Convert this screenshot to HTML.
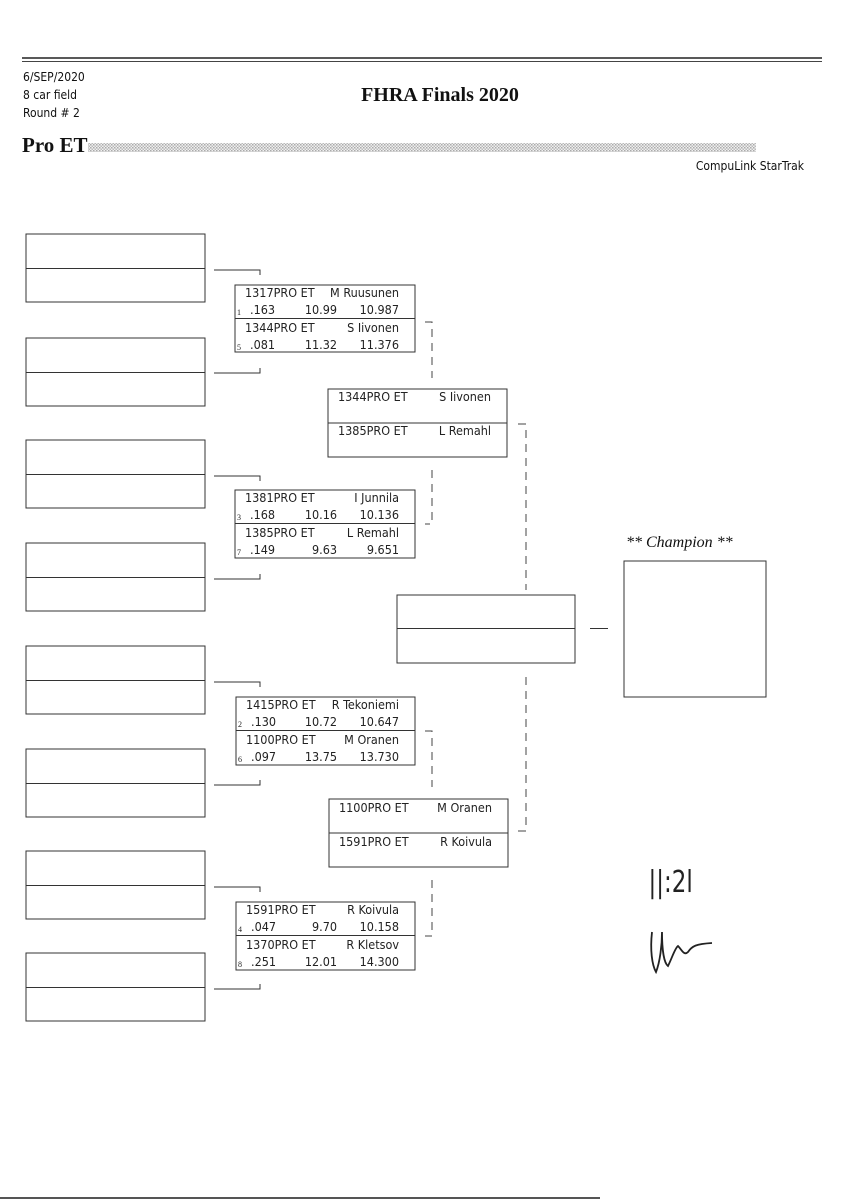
<!DOCTYPE html>
<html><head><meta charset="utf-8"><style>
html,body{margin:0;padding:0;background:#fff}
svg{display:block}
.n{font-family:"Liberation Sans Narrow","DejaVu Sans Condensed","Liberation Sans",sans-serif;font-size:12.5px;fill:#222}
.s{font-family:"Liberation Serif",serif;font-size:8px;fill:#222}
.h{font-family:"DejaVu Sans Condensed","Liberation Sans Narrow",sans-serif;font-size:12px;fill:#111}
</style></head><body>
<svg width="848" height="1200" viewBox="0 0 848 1200" xmlns="http://www.w3.org/2000/svg">
<defs>
<pattern id="dots" width="3" height="3" patternUnits="userSpaceOnUse"><rect width="3" height="3" fill="#f0f0f0"/><rect width="1.5" height="1.5" fill="#aaa"/><rect x="1.5" y="1.5" width="1.5" height="1.5" fill="#bbb"/></pattern>
</defs>
<line x1="22" y1="58" x2="822" y2="58" stroke="#222" stroke-width="1.6"/>
<line x1="22" y1="61.5" x2="822" y2="61.5" stroke="#444" stroke-width="1"/>
<text class="h" x="23" y="81">6/SEP/2020</text>
<text class="h" x="23" y="99">8 car field</text>
<text class="h" x="23" y="117">Round # 2</text>
<text x="440" y="101" text-anchor="middle" font-family="Liberation Serif,serif" font-weight="bold" font-size="20px" fill="#111">FHRA Finals 2020</text>
<text x="22" y="152" font-family="Liberation Serif,serif" font-weight="bold" font-size="21px" fill="#111">Pro ET</text>
<rect x="88" y="143" width="668" height="9" fill="url(#dots)"/>
<text class="h" x="804" y="170" text-anchor="end">CompuLink StarTrak</text>

<g fill="none" stroke="#333" stroke-width="1">
<rect x="26" y="234" width="179" height="68"/><line x1="26" y1="268.5" x2="205" y2="268.5"/>
<rect x="26" y="338" width="179" height="68"/><line x1="26" y1="372.5" x2="205" y2="372.5"/>
<rect x="26" y="440" width="179" height="68"/><line x1="26" y1="474.5" x2="205" y2="474.5"/>
<rect x="26" y="543" width="179" height="68"/><line x1="26" y1="577.5" x2="205" y2="577.5"/>
<rect x="26" y="646" width="179" height="68"/><line x1="26" y1="680.5" x2="205" y2="680.5"/>
<rect x="26" y="749" width="179" height="68"/><line x1="26" y1="783.5" x2="205" y2="783.5"/>
<rect x="26" y="851" width="179" height="68"/><line x1="26" y1="885.5" x2="205" y2="885.5"/>
<rect x="26" y="953" width="179" height="68"/><line x1="26" y1="987.5" x2="205" y2="987.5"/>
<path d="M214 270H260V275"/><path d="M214 373H260V368"/>
<path d="M214 476H260V481"/><path d="M214 579H260V574"/>
<path d="M214 682H260V687"/><path d="M214 785H260V780"/>
<path d="M214 887H260V892"/><path d="M214 989H260V984"/>
<rect x="235" y="285" width="180" height="67"/><line x1="235" y1="318.5" x2="415" y2="318.5"/>
<rect x="235" y="490" width="180" height="68"/><line x1="235" y1="523.5" x2="415" y2="523.5"/>
<rect x="236" y="697" width="179" height="68"/><line x1="236" y1="730.5" x2="415" y2="730.5"/>
<rect x="236" y="902" width="179" height="68"/><line x1="236" y1="935.5" x2="415" y2="935.5"/>
<rect x="328" y="389" width="179" height="68"/><line x1="328" y1="423" x2="507" y2="423"/>
<rect x="329" y="799" width="179" height="68"/><line x1="329" y1="833" x2="508" y2="833"/>
<rect x="397" y="595" width="178" height="68"/><line x1="397" y1="628.5" x2="575" y2="628.5"/>
<line x1="590" y1="628.5" x2="608" y2="628.5"/>
<rect x="624" y="561" width="142" height="136"/>
</g>
<g fill="none" stroke="#444" stroke-width="1" stroke-dasharray="8,6">
<path d="M425 322H432V378"/>
<path d="M432 470V524H425"/>
<path d="M518 424H526V590"/>
<path d="M526 677V831H518"/>
<path d="M425 731H432V787"/>
<path d="M432 880V936H425"/>
</g>
<g class="n">
<text x="245" y="297">1317PRO ET</text><text x="399" y="297" text-anchor="end">M Ruusunen</text>
<text x="250" y="314">.163</text><text x="337" y="314" text-anchor="end">10.99</text><text x="399" y="314" text-anchor="end">10.987</text>
<text x="245" y="332">1344PRO ET</text><text x="399" y="332" text-anchor="end">S Iivonen</text>
<text x="250" y="349">.081</text><text x="337" y="349" text-anchor="end">11.32</text><text x="399" y="349" text-anchor="end">11.376</text>

<text x="245" y="502">1381PRO ET</text><text x="399" y="502" text-anchor="end">I Junnila</text>
<text x="250" y="519">.168</text><text x="337" y="519" text-anchor="end">10.16</text><text x="399" y="519" text-anchor="end">10.136</text>
<text x="245" y="537">1385PRO ET</text><text x="399" y="537" text-anchor="end">L Remahl</text>
<text x="250" y="554">.149</text><text x="337" y="554" text-anchor="end">9.63</text><text x="399" y="554" text-anchor="end">9.651</text>

<text x="246" y="709">1415PRO ET</text><text x="399" y="709" text-anchor="end">R Tekoniemi</text>
<text x="251" y="726">.130</text><text x="337" y="726" text-anchor="end">10.72</text><text x="399" y="726" text-anchor="end">10.647</text>
<text x="246" y="744">1100PRO ET</text><text x="399" y="744" text-anchor="end">M Oranen</text>
<text x="251" y="761">.097</text><text x="337" y="761" text-anchor="end">13.75</text><text x="399" y="761" text-anchor="end">13.730</text>

<text x="246" y="914">1591PRO ET</text><text x="399" y="914" text-anchor="end">R Koivula</text>
<text x="251" y="931">.047</text><text x="337" y="931" text-anchor="end">9.70</text><text x="399" y="931" text-anchor="end">10.158</text>
<text x="246" y="949">1370PRO ET</text><text x="399" y="949" text-anchor="end">R Kletsov</text>
<text x="251" y="966">.251</text><text x="337" y="966" text-anchor="end">12.01</text><text x="399" y="966" text-anchor="end">14.300</text>

<text x="338" y="401">1344PRO ET</text><text x="491" y="401" text-anchor="end">S Iivonen</text>
<text x="338" y="435">1385PRO ET</text><text x="491" y="435" text-anchor="end">L Remahl</text>
<text x="339" y="812">1100PRO ET</text><text x="492" y="812" text-anchor="end">M Oranen</text>
<text x="339" y="846">1591PRO ET</text><text x="492" y="846" text-anchor="end">R Koivula</text>
</g>
<g class="s">
<text x="237" y="315">1</text><text x="237" y="350">5</text>
<text x="237" y="520">3</text><text x="237" y="555">7</text>
<text x="238" y="727">2</text><text x="238" y="762">6</text>
<text x="238" y="932">4</text><text x="238" y="967">8</text>
</g>
<text x="626" y="547" font-family="Liberation Serif,serif" font-style="italic" font-size="16px" fill="#111">** Champion **</text>
<text x="648" y="892" font-family="DejaVu Sans Condensed,sans-serif" font-size="30px" fill="#222" transform="scale(0.85,1) translate(115,0)">||:2l</text>
<path d="M652 932 C650 950,652 965,656 972 C660 962,662 945,662 932 C662 950,664 963,668 966 C672 958,675 948,678 946 C682 950,684 956,688 952 C692 946,696 944,712 943" fill="none" stroke="#222" stroke-width="1.8"/>
<line x1="0" y1="1198" x2="600" y2="1198" stroke="#555" stroke-width="2"/>
</svg>
</body></html>
